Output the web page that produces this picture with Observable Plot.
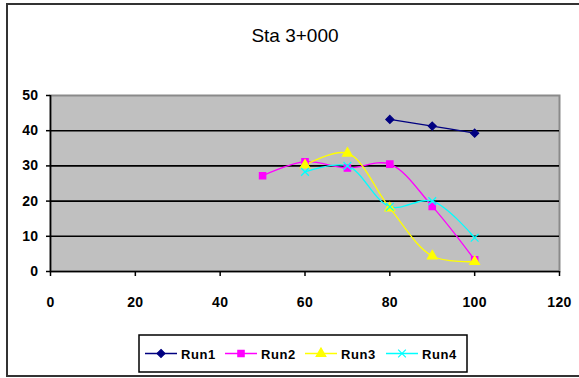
<!DOCTYPE html>
<html>
<head>
<meta charset="utf-8">
<script src="https://cdn.jsdelivr.net/npm/d3@7"></script>
<script src="https://cdn.jsdelivr.net/npm/@observablehq/plot@0.6"></script>
<style>
  html, body { margin: 0; padding: 0; background: #fff; }
  #chart { position: relative; width: 579px; height: 378px; overflow: hidden; }
  #chart svg { display: block; }
  #chart svg g[aria-label="x-axis tick label"] text,
  #chart svg g[aria-label="y-axis tick label"] text { font-size: 14px !important; font-weight: bold; letter-spacing: 0.4px; }
</style>
</head>
<body>
<div id="chart"></div>
<script>
// Station readings per run
const stations = [50, 60, 70, 80, 90, 100];
const run1 = [null, null, null, 43.2, 41.3, 39.3];
const run2 = [27.2, 31.2, 29.4, 30.5, 18.5, 3.3];
const run3 = [null, 30.2, 33.6, 18.0, 4.4, 2.8];
const run4 = [null, 28.3, 30.0, 18.4, 20.0, 9.6];

const seriesNames = ["Run1", "Run2", "Run3", "Run4"];
const seriesValues = [run1, run2, run3, run4];
const seriesColors = ["#000080", "#ff00ff", "#ffff00", "#00ffff"];
const seriesSymbols = ["diamond2", "square", "triangle", "times"];

const xTicks = [0, 20, 40, 60, 80, 100, 120];
const yTicks = [0, 10, 20, 30, 40, 50];
const gridValues = [10, 20, 30, 40];

const rows = [];
seriesNames.forEach((name, i) => {
  stations.forEach((s, j) => {
    const v = seriesValues[i][j];
    if (v != null) rows.push({run: name, station: s, value: v});
  });
});

const font = "'Liberation Sans', Arial, sans-serif";

const plot = Plot.plot({
  width: 579,
  height: 378,
  marginLeft: 50,
  marginRight: 20,
  marginTop: 95,
  marginBottom: 107,
  style: {fontFamily: font, fontSize: "14px", color: "#000", background: "transparent"},
  x: {domain: [0, 120], ticks: xTicks, label: null},
  y: {domain: [0, 50], ticks: yTicks, label: null},
  color: {domain: seriesNames, range: seriesColors},
  symbol: {domain: seriesNames, range: seriesSymbols},
  marks: [
    Plot.frame({fill: "#c0c0c0", stroke: "#8a8a8a", strokeWidth: 2}),
    Plot.ruleY(gridValues, {stroke: "#000", strokeWidth: 1.6}),
    Plot.axisX({ticks: xTicks, tickSize: 5, tickPadding: 21, stroke: "#000", strokeWidth: 1.5, fontSize: 14, fontWeight: "bold"}),
    Plot.axisY({ticks: yTicks, tickSize: 4, tickPadding: 8, stroke: "#000", strokeWidth: 1.5, fontSize: 14, fontWeight: "bold"}),
    Plot.ruleY([0], {stroke: "#000", strokeWidth: 1.6}),
    Plot.ruleX([0], {stroke: "#000", strokeWidth: 1.6}),
    Plot.line(rows, {x: "station", y: "value", z: "run", stroke: "run", strokeWidth: 1.3, curve: "catmull-rom"}),
    Plot.dot(rows, {x: "station", y: "value", symbol: "run", fill: "run", stroke: "run", r: 3.6, strokeWidth: 1.2})
  ]
});

const svg = d3.select(plot);

// Outer chart border
svg.append("rect")
  .attr("x", 7).attr("y", 4).attr("width", 620).attr("height", 372)
  .attr("fill", "none").attr("stroke", "#333").attr("stroke-width", 2);

// Title
svg.append("text")
  .attr("x", 295).attr("y", 42)
  .attr("text-anchor", "middle")
  .attr("font-family", font).attr("font-size", 19)
  .attr("fill", "#000")
  .text("Sta 3+000");

// Legend
const lg = svg.append("g");
lg.append("rect")
  .attr("x", 139).attr("y", 335).attr("width", 328).attr("height", 37)
  .attr("fill", "#fff").attr("stroke", "#000").attr("stroke-width", 1.5);
const legendStarts = [145, 225, 305, 386];
const symbolType = {diamond2: d3.symbolDiamond2, square: d3.symbolSquare, triangle: d3.symbolTriangle, times: d3.symbolTimes};
seriesNames.forEach((name, i) => {
  const x0 = legendStarts[i];
  const cy = 353.5;
  lg.append("line").attr("x1", x0).attr("x2", x0 + 32).attr("y1", cy).attr("y2", cy)
    .attr("stroke", seriesColors[i]).attr("stroke-width", 1.5);
  lg.append("path")
    .attr("transform", `translate(${x0 + 16},${cy})`)
    .attr("d", d3.symbol(symbolType[seriesSymbols[i]], 40)())
    .attr("fill", seriesColors[i]).attr("stroke", seriesColors[i]).attr("stroke-width", 1.2);
  lg.append("text")
    .attr("x", x0 + 36).attr("y", cy + 5)
    .attr("text-anchor", "start")
    .attr("font-family", font).attr("font-size", 13).attr("font-weight", "bold")
    .attr("letter-spacing", 0.6)
    .attr("fill", "#000")
    .text(name);
});

document.getElementById("chart").appendChild(plot);
</script>
</body>
</html>
